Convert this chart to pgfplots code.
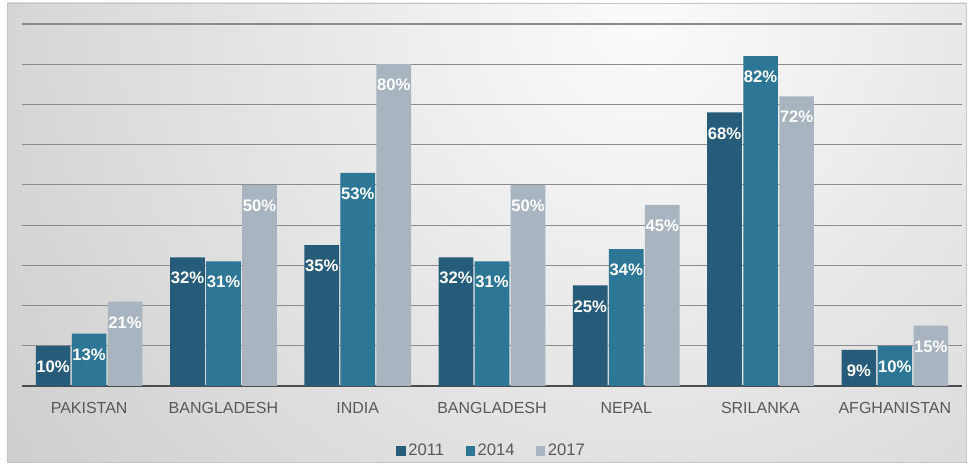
\documentclass[border=0pt]{standalone}
\usepackage{pgfplots}
\pgfplotsset{compat=1.18}
\usepackage{fontspec}
\setmainfont{Liberation Sans}
\definecolor{cA}{RGB}{38,92,122}
\definecolor{cB}{RGB}{45,118,150}
\definecolor{cC}{RGB}{168,180,191}
\definecolor{tick}{RGB}{89,89,89}
\begin{document}
\begin{tikzpicture}
\useasboundingbox (0,0) rectangle (726.75pt,349.5pt);
\begin{scope}
\clip (5.25pt,3pt) rectangle (724.5pt,347.25pt);
\shade[inner color=gray!3, outer color=gray!40] (480pt,330pt) circle (600pt);
\end{scope}
\draw[gray!45, line width=0.6pt] (5.25pt,3pt) rectangle (724.5pt,347.25pt);
\begin{axis}[
  at={(16.5pt,60pt)}, anchor=south west,
  scale only axis, width=705pt, height=271.5pt,
  ybar=1pt, bar width=26pt,
  xmin=-0.5, xmax=6.5, ymin=0, ymax=90,
  xtick=data,
  xticklabels={PAKISTAN,BANGLADESH,INDIA,BANGLADESH,NEPAL,SRILANKA,AFGHANISTAN},
  ytick={10,20,...,90}, yticklabels={},
  major tick length=0pt,
  ymajorgrids, grid style={draw=black!45, line width=0.9pt},
  axis x line*=bottom, axis y line*=left,
  x axis line style={draw=black!70, line width=1.6pt},
  y axis line style={draw=none},
  xticklabel style={font=\fontsize{12}{14}\selectfont, text=tick, yshift=-9pt},
  /pgf/number format/assume math mode=true,
  nodes near coords={\pgfmathprintnumber{\pgfplotspointmeta}\%},
  every node near coord/.append style={anchor=north, yshift=-9pt, text=white, font=\bfseries\fontsize{12.5}{14}\selectfont, inner sep=2pt},
  legend columns=3,
  legend style={at={(0.5,-0.18)}, anchor=center, draw=none, fill=none,
    font=\fontsize{12.5}{14}\selectfont, text=tick,
    /tikz/every even column/.append style={column sep=14pt}},
  legend image code/.code={\fill[#1,draw=none] (0pt,-3.5pt) rectangle (7pt,3.5pt);},
]
\addplot[fill=cA, draw=none] coordinates {(0,10) (1,32) (2,35) (3,32) (4,25) (5,68) (6,9)};
\addplot[fill=cB, draw=none] coordinates {(0,13) (1,31) (2,53) (3,31) (4,34) (5,82) (6,10)};
\addplot[fill=cC, draw=none] coordinates {(0,21) (1,50) (2,80) (3,50) (4,45) (5,72) (6,15)};
\legend{2011,2014,2017}
\end{axis}
\end{tikzpicture}
\end{document}
